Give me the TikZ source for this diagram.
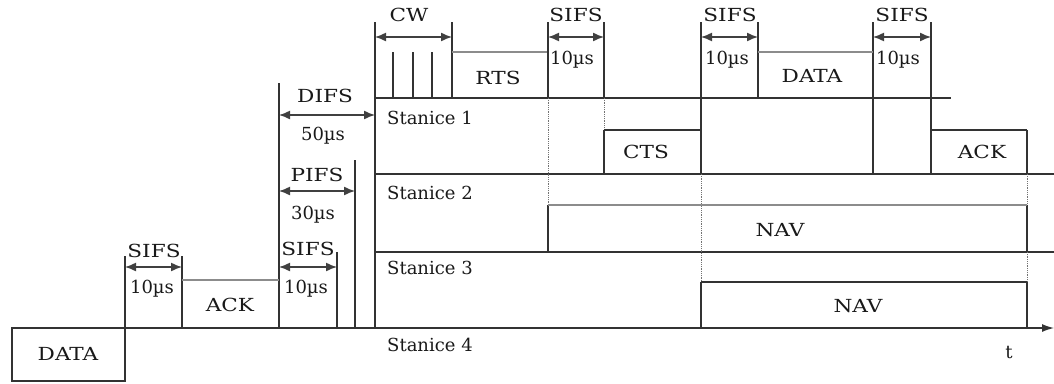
\documentclass[tikz,border=0pt]{standalone}
\usepackage{fontspec}
\setmainfont{DejaVu Serif}
\newfontfamily\capsfont[FakeStretch=1.2]{DejaVu Serif}
\usetikzlibrary{arrows.meta}
\begin{document}
\begin{tikzpicture}[x=1pt,y=-1pt,
  ln/.style={draw=black!80, line width=1.3pt},
  gl/.style={draw=black!45, line width=1.3pt},
  dl/.style={draw=black!55, densely dotted, line width=0.8pt},
  dimarrow/.style={draw=black!75, line width=1.4pt, {Latex[length=11pt,width=9pt]}-{Latex[length=11pt,width=9pt]}},
  lbl/.style={font=\fontsize{18}{20}\selectfont, inner sep=0pt, text=black!90},
  caplbl/.style={font=\fontsize{18}{20}\capsfont, inner sep=0pt, text=black!90},
  stn/.style={lbl, anchor=west},
]
\useasboundingbox (0,0) rectangle (1054,383);

% time axis and first DATA frame
\coordinate (axL) at (12,328);
\coordinate (axR) at (1054,328);
\draw[ln, -{Latex[length=12pt,width=8pt]}] (axL) -- (axR);
\draw[ln] (12,328) rectangle (125,381);
\node[caplbl] (data0) at (68,354) {DATA};

% station lines
\draw[ln] (375,98) -- (951,98);
\draw[ln] (375,174) -- (1054,174);
\draw[ln] (375,252) -- (1054,252);

% left verticals
\draw[ln] (125,256) -- (125,381);
\draw[ln] (182,256) -- (182,328);
\draw[ln] (279,83) -- (279,328);
\draw[ln] (337,252) -- (337,328);
\draw[ln] (355,160) -- (355,328);
\draw[ln] (375,22) -- (375,328);

% ACK (left)
\draw[gl] (182,280) -- (279,280);
\node[caplbl] (ack0) at (230,305) {ACK};

% CW slots
\draw[ln] (393,52) -- (393,98);
\draw[ln] (413,52) -- (413,98);
\draw[ln] (432,52) -- (432,98);
\draw[ln] (452,22) -- (452,98);

% RTS
\draw[gl] (452,52) -- (548,52);
\node[caplbl] (rts) at (498,78) {RTS};

% verticals top
\draw[ln] (548,22) -- (548,98);
\draw[dl] (548,98) -- (548,205);
\draw[ln] (548,205) -- (548,252);
\draw[ln] (604,22) -- (604,98);
\draw[dl] (604,98) -- (604,130);
\draw[ln] (604,130) -- (604,174);
\draw[ln] (701,22) -- (701,174);
\draw[dl] (701,174) -- (701,282);
\draw[ln] (701,282) -- (701,328);
\draw[ln] (758,22) -- (758,98);
\draw[ln] (873,22) -- (873,174);
\draw[ln] (931,22) -- (931,174);
\draw[ln] (1027,130) -- (1027,174);
\draw[dl] (1027,174) -- (1027,205);
\draw[ln] (1027,205) -- (1027,252);
\draw[dl] (1027,252) -- (1027,282);
\draw[ln] (1027,282) -- (1027,328);

% CTS, DATA, ACK boxes
\draw[ln] (604,130) -- (701,130);
\node[caplbl] (cts) at (646,152) {CTS};
\draw[gl] (758,52) -- (873,52);
\node[caplbl] (data1) at (812,76) {DATA};
\draw[ln] (931,130) -- (1027,130);
\node[caplbl] (ack1) at (982,152) {ACK};

% NAV boxes
\draw[gl] (548,205) -- (1027,205);
\node[caplbl] (nav1) at (780,230) {NAV};
\draw[ln] (701,282) -- (1027,282);
\node[caplbl] (nav2) at (858,306) {NAV};

% dimension arrows
\draw[dimarrow] (125,267) -- (182,267);
\draw[dimarrow] (279,267) -- (337,267);
\draw[dimarrow] (279,191) -- (355,191);
\draw[dimarrow] (279,115) -- (375,115);
\draw[dimarrow] (375,37) -- (452,37);
\draw[dimarrow] (548,37) -- (604,37);
\draw[dimarrow] (701,37) -- (758,37);
\draw[dimarrow] (873,37) -- (931,37);

% dimension labels
\node[caplbl] (sifsA) at (154,251) {SIFS};
\node[lbl] (tA) at (152,289) {10µs};
\node[caplbl] (sifsB) at (308,249) {SIFS};
\node[lbl] (tB) at (306,289) {10µs};
\node[caplbl] (pifs) at (317,175) {PIFS};
\node[lbl] (tP) at (313,215) {30µs};
\node[caplbl] (difs) at (325,96) {DIFS};
\node[lbl] (tD) at (323,136) {50µs};
\node[caplbl] (cw) at (409,15) {CW};
\node[caplbl] (sifsC) at (576,15) {SIFS};
\node[lbl] (tC) at (572,60) {10µs};
\node[caplbl] (sifsD) at (730,15) {SIFS};
\node[lbl] (tDd) at (727,60) {10µs};
\node[caplbl] (sifsE) at (902,15) {SIFS};
\node[lbl] (tE) at (898,60) {10µs};

% station labels
\node[stn] (s1) at (387,118) {Stanice 1};
\node[stn] (s2) at (387,193) {Stanice 2};
\node[stn] (s3) at (387,268) {Stanice 3};
\node[stn] (s4) at (387,345) {Stanice 4};
\node[lbl] (tt) at (1009,352) {t};
\end{tikzpicture}
\end{document}
